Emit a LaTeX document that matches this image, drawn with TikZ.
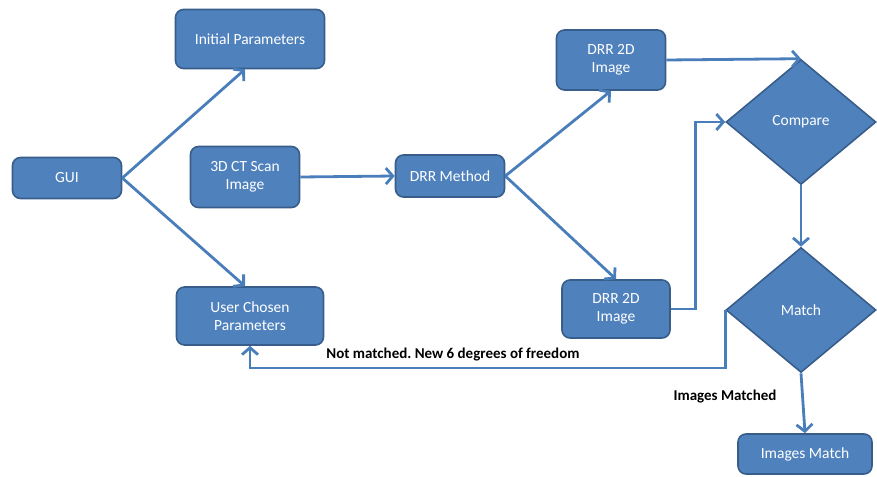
\documentclass[tikz,border=0pt]{standalone}
\usepackage{fontspec}
\setmainfont{Carlito}
\usetikzlibrary{shapes.geometric,arrows.meta}
\definecolor{boxblue}{RGB}{79,129,189}
\definecolor{boxedge}{RGB}{56,93,138}
\definecolor{linkblue}{RGB}{74,126,187}
\frenchspacing
\tikzset{
        x=1pt, y=-1pt,
        box/.style={rectangle, rounded corners=8pt, draw=boxedge, line width=1.6pt, fill=boxblue, text=white, align=center, inner sep=2pt, font=\fontsize{15.5}{18}\selectfont},
        decision/.style={diamond, draw=boxedge, line width=1.6pt, fill=boxblue, text=white, inner sep=0pt, minimum width=150pt, minimum height=125pt, font=\fontsize{15.5}{18}\selectfont},
        link/.style={draw=linkblue, line width=2.8pt, -{Straight Barb[length=7pt,width=16pt]}},
        note/.style={text=black, font=\bfseries\fontsize{15}{17}\selectfont}
          }
\begin{document}
\begin{tikzpicture}
            \useasboundingbox (0,0) rectangle (877,476);
            \node[box, minimum width=149pt, minimum height=59pt] (init) at (250,39) {Initial Parameters};
            \node[box, minimum width=109pt, minimum height=41pt] (gui) at (67,178) {GUI};
            \node[box, minimum width=109pt, minimum height=61pt] (ct) at (245,177) {3D CT Scan\\Image};
            \node[box, minimum width=109pt, minimum height=42pt] (drr) at (450,176) {DRR Method};
            \node[box, minimum width=109pt, minimum height=60pt] (drrtop) at (611,60) {DRR 2D\\Image};
            \node[box, minimum width=108pt, minimum height=58pt] (drrbot) at (616,309) {DRR 2D\\Image};
            \node[box, minimum width=147pt, minimum height=58pt] (user) at (250,316) {User Chosen\\Parameters};
            \node[decision] (cmp) at (801,122) {Compare};
            \node[decision] (match) at (801,310) {Match};
            \node[box, minimum width=134pt, minimum height=40pt] (result) at (805,454) {Images Match};
            \node[note] (nomatch) at (453,355) {Not matched. New 6 degrees of freedom};
            \node[note] (matched) at (725,397) {Images Matched};

            \draw[link] (gui.east) -- ([xshift=-5pt]init.south);
            \draw[link] (gui.east) -- ([xshift=-5pt]user.north);
            \draw[link] (ct.east) -- (drr.west);
            \draw[link] (drr.east) -- (drrtop.south);
            \draw[link] (drr.east) -- (drrbot.north);
            \draw[link] (drrtop.east) -- (cmp.north);
            \draw[link] (drrbot.east) -| ([xshift=-30pt]cmp.west) -- (cmp.west);
            \draw[link] (cmp.south) -- (match.north);
            \draw[link] (match.west) -- ++(0,58) -| (user.south);
            \draw[link] (match.south) -- (result.north);
          \end{tikzpicture}
\end{document}
